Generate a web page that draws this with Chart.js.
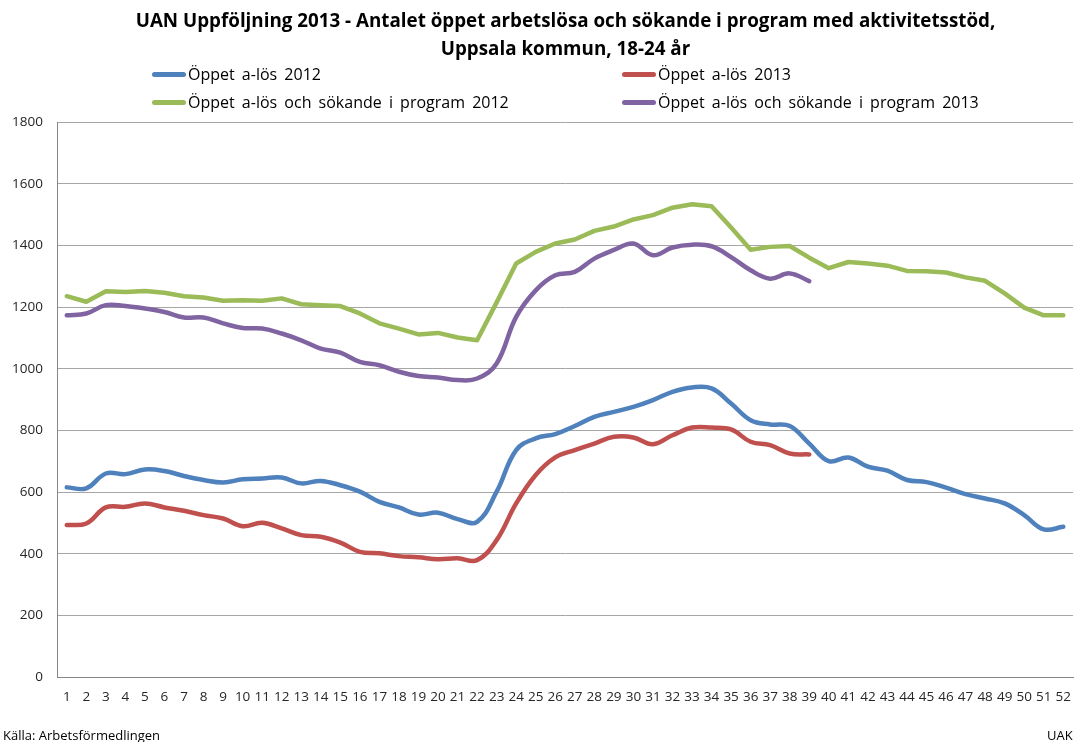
<!DOCTYPE html>
<html>
<head>
<meta charset="utf-8">
<script src="https://cdn.jsdelivr.net/npm/chart.js@4"></script>
<style>
  body { margin: 0; background: #fff; }
  #wrap { position: relative; width: 1083px; height: 742px; font-family: "Open Sans", sans-serif; color: #000; }
  #chart { position: absolute; left: 0; top: 0; }
  .title { position: absolute; left: 0; width: 1131px; text-align: center; font-weight: bold; font-size: 18.8px; line-height: 24px; }
  .leg { position: absolute; font-size: 16px; line-height: 20px; white-space: nowrap; word-spacing: 3px; }
  .leg span.mk { display: inline-block; width: 34px; height: 5px; border-radius: 3px; vertical-align: middle; margin-right: 2px; position: relative; top: -1px; }
  .note { position: absolute; top: 726px; font-size: 13px; }
</style>
</head>
<body>
<div id="wrap">
  <canvas id="chart" width="1083" height="742"></canvas>
  <div class="title" style="top:8px">UAN Uppföljning 2013 - Antalet öppet arbetslösa och sökande i program med aktivitetsstöd,</div>
  <div class="title" style="top:36px">Uppsala kommun, 18-24 år</div>
  <div id="legend"></div>
  <div class="note" style="left:3px">Källa: Arbetsförmedlingen</div>
  <div class="note" style="left:1047px">UAK</div>
</div>
<script>
// veckor 1-52
var weeks = [];
for (var w = 1; w <= 52; w++) weeks.push(String(w));

var yTicks = [0, 200, 400, 600, 800, 1000, 1200, 1400, 1600, 1800];

var oppet2012 = [615,612,660,658,673,668,652,639,631,641,644,647,628,636,622,601,568,550,527,533,
  512,503,601,736,774,788,814,844,860,876,898,925,939,936,887,833,819,814,757,700,
  712,682,669,639,632,614,593,579,563,525,479,487];

var oppet2013 = [493,498,550,552,563,550,539,525,514,489,500,482,460,455,436,406,401,392,388,382,
  385,379,444,563,655,712,736,757,779,777,755,784,809,809,803,763,752,725,722];

var program2012 = [1235,1217,1251,1249,1252,1246,1235,1231,1220,1222,1220,1228,1209,1206,1203,1179,1147,1130,1111,1116,
  1101,1092,1215,1341,1379,1406,1419,1447,1461,1484,1498,1522,1533,1527,1458,1386,1395,1398,1360,1326,
  1346,1341,1334,1317,1316,1312,1296,1285,1244,1198,1173,1173];

var program2013 = [1173,1179,1206,1203,1195,1184,1166,1166,1147,1132,1130,1114,1092,1065,1052,1022,1011,990,976,971,
  963,968,1017,1168,1254,1303,1314,1357,1385,1406,1368,1393,1402,1397,1362,1319,1292,1309,1284];

var seriesNames = ['Öppet a-lös 2012', 'Öppet a-lös 2013', 'Öppet a-lös och sökande i program 2012', 'Öppet a-lös och sökande i program 2013'];
var colors = ['#4F81BD', '#C0504D', '#9BBB59', '#8064A2'];

// legend 2x2 like the Excel one
var legPos = [[152, 64], [622, 64], [152, 92], [622, 92]];
var legHtml = '';
for (var i = 0; i < 4; i++) {
  legHtml += '<div class="leg" style="left:' + legPos[i][0] + 'px;top:' + legPos[i][1] + 'px">' +
    '<span class="mk" style="background:' + colors[i] + '"></span>' + seriesNames[i] + '</div>';
}
document.getElementById('legend').innerHTML = legHtml;

function ds(label, data, color, tension) {
  return {
    label: label,
    data: data,
    borderColor: color,
    backgroundColor: color,
    borderWidth: 4.5,
    pointRadius: 0,
    tension: tension,
    borderCapStyle: 'round',
    borderJoinStyle: 'round',
    fill: false
  };
}

var ctx = document.getElementById('chart');
new Chart(ctx, {
  type: 'line',
  data: {
    labels: weeks,
    datasets: [
      ds(seriesNames[0], oppet2012, colors[0], 0.4),
      ds(seriesNames[1], oppet2013, colors[1], 0.4),
      ds(seriesNames[2], program2012, colors[2], 0),
      ds(seriesNames[3], program2013, colors[3], 0.4)
    ]
  },
  options: {
    responsive: false,
    animation: false,
    layout: { padding: { top: 122, right: 1, left: 0, bottom: 0 } },
    plugins: {
      legend: { display: false },
      title: { display: false },
      tooltip: { enabled: false }
    },
    scales: {
      x: {
        offset: true,
        grid: { display: false, drawTicks: false },
        border: { color: '#868686', width: 1 },
        ticks: { color: '#262626', font: { family: 'Open Sans', size: 13.5 }, padding: 12, maxRotation: 0, autoSkip: false },
        afterFit: function (s) { s.height = 65; }
      },
      y: {
        min: 0,
        max: 1800,
        afterBuildTicks: function (s) { s.ticks = yTicks.map(function (v) { return { value: v }; }); },
        grid: { color: '#a6a6a6', drawTicks: false },
        border: { color: '#868686', width: 1 },
        ticks: {
          color: '#262626',
          font: { family: 'Open Sans', size: 13.5 },
          padding: 14,
          callback: function (v) { return String(v); }
        },
        afterFit: function (s) { s.width = 57; }
      }
    }
  }
});
</script>
</body>
</html>
